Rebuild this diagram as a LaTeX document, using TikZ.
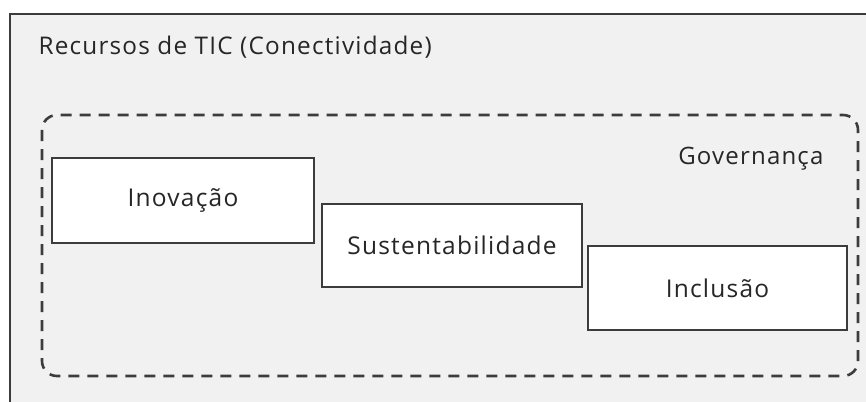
\documentclass[tikz,border=0pt]{standalone}
\usepackage{fontspec}
\setmainfont{Open Sans}[LetterSpace=5]
\usepackage{tikz}
\usetikzlibrary{positioning}

\definecolor{panelbg}{HTML}{F1F1F1}
\definecolor{edgegray}{HTML}{3C3C3C}
\definecolor{textgray}{HTML}{262626}

\tikzset{
    pillar/.style={draw=edgegray, line width=1.8pt, fill=white, text=textgray,
        font=\fontsize{24.5}{28}\selectfont, inner sep=0pt},
    govframe/.style={draw=edgegray, line width=2.6pt, dash pattern=on 11pt off 8pt,
        rounded corners=15pt}
}

\begin{document}
\begin{tikzpicture}[x=1pt,y=-1pt]
        \useasboundingbox (0,0) rectangle (866,401);
        \clip (0,0) rectangle (866,401);
        
        % outer panel
        \draw[draw=edgegray, line width=1.8pt, fill=panelbg] (10,14) rectangle (900,440);
        \node[anchor=base west, text=textgray, font=\fontsize{24.3}{28}\selectfont] (title) at (35,55) {Recursos de TIC (Conectividade)};
        
        % governance frame
        \draw[govframe] (42,115) rectangle (858,376);
        \node[anchor=base east, text=textgray, font=\fontsize{24}{28}\selectfont] (gov) at (827,164) {Governança};
        
        % pillars
        \node[pillar, minimum width=262pt, minimum height=85pt] (inov) at (183,200.5) {Inovação};
        \node[pillar, minimum width=260pt, minimum height=83pt] (sust) at (452,245.5) {Sustentabilidade};
        \node[pillar, minimum width=259pt, minimum height=84pt] (incl) at (717.5,288) {Inclusão};
    \end{tikzpicture}
\end{document}
